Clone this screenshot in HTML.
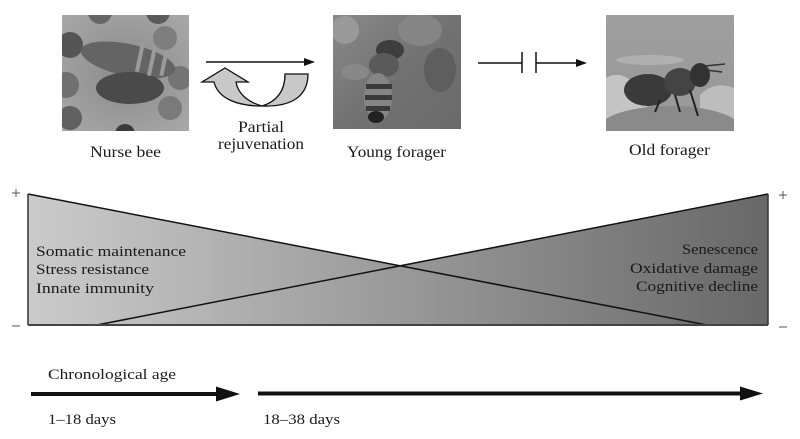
<!DOCTYPE html>
<html><head><meta charset="utf-8"><style>
html,body{margin:0;padding:0;background:#fff;}
svg{display:block;}
text{font-family:"Liberation Serif",serif;fill:#1a1a1a;}
</style></head><body>
<svg width="800" height="439" viewBox="0 0 800 439" xmlns="http://www.w3.org/2000/svg">
<defs>
<linearGradient id="g" x1="28" y1="0" x2="768" y2="0" gradientUnits="userSpaceOnUse">
<stop offset="0" stop-color="#cbcbcb"/><stop offset="1" stop-color="#686868"/>
</linearGradient>
<radialGradient id="nb" cx="0.5" cy="0.5" r="0.7"><stop offset="0" stop-color="#8a8a8a"/><stop offset="1" stop-color="#a8a8a8"/></radialGradient>
<linearGradient id="yf" x1="0" y1="0" x2="1" y2="1"><stop offset="0" stop-color="#8a8a8a"/><stop offset="0.5" stop-color="#727272"/><stop offset="1" stop-color="#6a6a6a"/></linearGradient>
<linearGradient id="of" x1="0" y1="0" x2="0" y2="1"><stop offset="0" stop-color="#9e9e9e"/><stop offset="1" stop-color="#989898"/></linearGradient>
<clipPath id="c1"><rect x="62" y="15" width="127" height="116"/></clipPath>
<clipPath id="c2"><rect x="333" y="15" width="128" height="114"/></clipPath>
<clipPath id="c3"><rect x="606" y="15" width="128" height="116"/></clipPath>
</defs>

<!-- Nurse bee photo -->
<g clip-path="url(#c1)">
<rect x="62" y="15" width="127" height="116" fill="url(#nb)"/>
<circle cx="70" cy="45" r="13" fill="#555"/>
<circle cx="66" cy="85" r="13" fill="#707070"/>
<circle cx="70" cy="118" r="12" fill="#606060"/>
<circle cx="100" cy="12" r="12" fill="#666"/>
<circle cx="158" cy="12" r="12" fill="#5a5a5a"/>
<circle cx="165" cy="38" r="12" fill="#7e7e7e"/>
<circle cx="180" cy="78" r="12" fill="#747474"/>
<circle cx="170" cy="108" r="12" fill="#7a7a7a"/>
<circle cx="125" cy="134" r="10" fill="#3a3a3a"/>
<ellipse cx="128" cy="60" rx="48" ry="16" transform="rotate(12 128 60)" fill="#646464"/>
<ellipse cx="130" cy="88" rx="34" ry="16" fill="#4a4a4a"/>
<rect x="138" y="42" width="4" height="30" fill="#9a9a9a" transform="rotate(12 140 57)"/>
<rect x="150" y="46" width="4" height="30" fill="#9a9a9a" transform="rotate(12 152 61)"/>
<rect x="162" y="50" width="4" height="26" fill="#9a9a9a" transform="rotate(12 164 63)"/>
</g>

<!-- Young forager photo -->
<g clip-path="url(#c2)">
<rect x="333" y="15" width="128" height="114" fill="url(#yf)"/>
<circle cx="345" cy="30" r="14" fill="#999"/>
<ellipse cx="420" cy="30" rx="22" ry="16" fill="#858585"/>
<ellipse cx="440" cy="70" rx="16" ry="22" fill="#5e5e5e"/>
<ellipse cx="355" cy="72" rx="14" ry="8" fill="#888"/>
<ellipse cx="390" cy="50" rx="14" ry="10" fill="#3e3e3e"/>
<ellipse cx="384" cy="65" rx="15" ry="12" fill="#5a5a5a"/>
<ellipse cx="378" cy="97" rx="14" ry="24" fill="#858585"/>
<rect x="366" y="84" width="26" height="5" fill="#3a3a3a"/>
<rect x="365" y="95" width="27" height="5" fill="#3a3a3a"/>
<rect x="366" y="106" width="24" height="5" fill="#3a3a3a"/>
<ellipse cx="376" cy="117" rx="8" ry="6" fill="#222"/>
</g>

<!-- Old forager photo -->
<g clip-path="url(#c3)">
<rect x="606" y="15" width="128" height="116" fill="url(#of)"/>
<path d="M606 78 Q620 70 632 82 Q640 100 650 110 L606 120Z" fill="#c4c4c4"/>
<path d="M700 95 Q715 80 734 88 L734 120 L700 120Z" fill="#bdbdbd"/>
<ellipse cx="670" cy="128" rx="70" ry="22" fill="#8a8a8a"/>
<ellipse cx="650" cy="60" rx="34" ry="5" fill="#b0b0b0"/>
<ellipse cx="648" cy="90" rx="24" ry="16" fill="#3a3a3a"/>
<ellipse cx="680" cy="82" rx="16" ry="14" fill="#444"/>
<ellipse cx="700" cy="75" rx="10" ry="12" fill="#333"/>
<line x1="705" y1="66" x2="725" y2="64" stroke="#333" stroke-width="1.5"/>
<line x1="706" y1="70" x2="722" y2="72" stroke="#333" stroke-width="1.5"/>
<line x1="660" y1="100" x2="655" y2="112" stroke="#222" stroke-width="2"/>
<line x1="675" y1="95" x2="680" y2="112" stroke="#222" stroke-width="2"/>
<line x1="690" y1="90" x2="698" y2="116" stroke="#222" stroke-width="2"/>
</g>

<!-- Top arrows -->
<line x1="206" y1="62" x2="306" y2="62" stroke="#111" stroke-width="1.5"/>
<polygon points="315,62 304,58 304,66" fill="#111"/>
<path d="M285 74 L308 74 C308 96 292 107 262 106 C278 101 285 90 285 74 Z" fill="#c8c8c8" stroke="#111" stroke-width="1.3"/>
<path d="M236 82 L248 82 L225 68 L202 82 L214 82 C218 98 236 106 262 106 C248 102 238 94 236 82 Z" fill="#c8c8c8" stroke="#111" stroke-width="1.3"/>

<line x1="478" y1="63" x2="522" y2="63" stroke="#111" stroke-width="1.5"/>
<line x1="522" y1="52" x2="522" y2="73" stroke="#111" stroke-width="1.5"/>
<line x1="536" y1="52" x2="536" y2="73" stroke="#111" stroke-width="1.5"/>
<line x1="536" y1="63" x2="578" y2="63" stroke="#111" stroke-width="1.5"/>
<polygon points="587,63 576,59 576,67" fill="#111"/>

<!-- Top labels -->
<text x="90" y="157" font-size="16" textLength="71" lengthAdjust="spacingAndGlyphs">Nurse bee</text>
<text x="238" y="132" font-size="16" textLength="46" lengthAdjust="spacingAndGlyphs">Partial</text>
<text x="218" y="149" font-size="16" textLength="86" lengthAdjust="spacingAndGlyphs">rejuvenation</text>
<text x="347" y="157" font-size="16" textLength="99" lengthAdjust="spacingAndGlyphs">Young forager</text>
<text x="629" y="155" font-size="16" textLength="81" lengthAdjust="spacingAndGlyphs">Old forager</text>

<!-- Triangle diagram -->
<polygon points="28,194 400.2,265.8 768,194 768,325 28,325" fill="url(#g)"/>
<line x1="28" y1="194" x2="707" y2="325" stroke="#111" stroke-width="1.5"/>
<line x1="97" y1="325" x2="768" y2="194" stroke="#111" stroke-width="1.5"/>
<line x1="28" y1="194" x2="28" y2="325" stroke="#333" stroke-width="1.5"/>
<line x1="768" y1="194" x2="768" y2="325" stroke="#333" stroke-width="1.5"/>
<line x1="28" y1="325" x2="768" y2="325" stroke="#444" stroke-width="2"/>

<text x="36" y="256" font-size="15" textLength="150" lengthAdjust="spacingAndGlyphs">Somatic maintenance</text>
<text x="36" y="274" font-size="15" textLength="113" lengthAdjust="spacingAndGlyphs">Stress resistance</text>
<text x="36" y="293" font-size="15" textLength="118" lengthAdjust="spacingAndGlyphs">Innate immunity</text>
<text x="682" y="254" font-size="15" textLength="76" lengthAdjust="spacingAndGlyphs">Senescence</text>
<text x="630" y="273" font-size="15" textLength="128" lengthAdjust="spacingAndGlyphs">Oxidative damage</text>
<text x="636" y="291" font-size="15" textLength="122" lengthAdjust="spacingAndGlyphs">Cognitive decline</text>

<!-- +/- -->
<line x1="12" y1="193" x2="20" y2="193" stroke="#555" stroke-width="1"/>
<line x1="16" y1="189" x2="16" y2="197" stroke="#555" stroke-width="1"/>
<line x1="12" y1="326" x2="20" y2="326" stroke="#555" stroke-width="1"/>
<line x1="779" y1="195" x2="787" y2="195" stroke="#555" stroke-width="1"/>
<line x1="783" y1="191" x2="783" y2="199" stroke="#555" stroke-width="1"/>
<line x1="779" y1="327" x2="787" y2="327" stroke="#555" stroke-width="1"/>

<!-- Bottom timeline -->
<text x="48" y="379" font-size="15" textLength="128" lengthAdjust="spacingAndGlyphs">Chronological age</text>
<line x1="31" y1="394" x2="218" y2="394" stroke="#111" stroke-width="4"/>
<polygon points="240,394 216,386.5 216,401.5" fill="#111"/>
<line x1="258" y1="393.5" x2="742" y2="393.5" stroke="#111" stroke-width="4"/>
<polygon points="763,393.5 740,386.5 740,400.5" fill="#111"/>
<text x="48" y="424" font-size="15" textLength="68" lengthAdjust="spacingAndGlyphs">1–18 days</text>
<text x="263" y="424" font-size="15" textLength="77" lengthAdjust="spacingAndGlyphs">18–38 days</text>
</svg>
</body></html>
